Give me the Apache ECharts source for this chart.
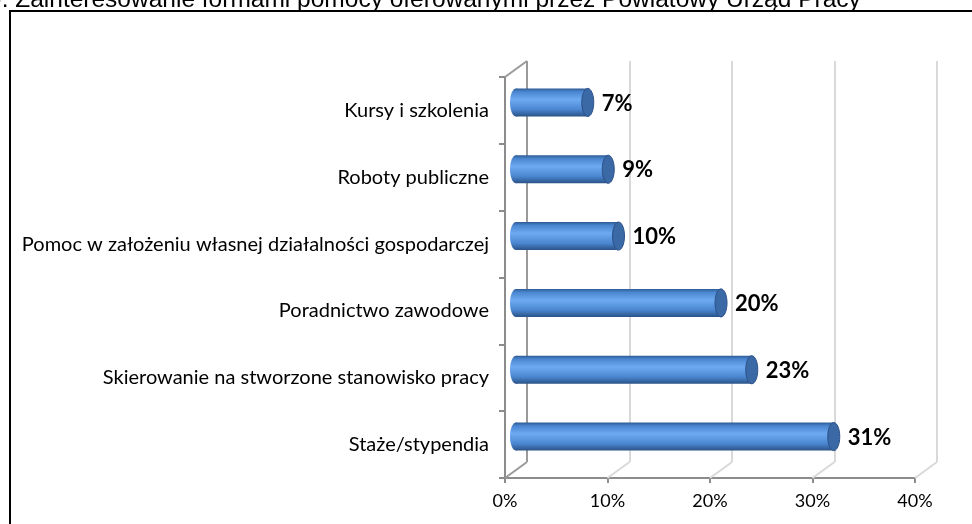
<!DOCTYPE html>
<html>
<head>
<meta charset="utf-8">
<script src="https://cdn.jsdelivr.net/npm/echarts@6/dist/echarts.min.js"></script>
<style>
  html, body { margin: 0; padding: 0; background: #fff; }
  #chart { width: 972px; height: 524px; }
</style>
</head>
<body>
<div id="chart"></div>
<script>
// categories top -> bottom
const categories = [
  'Kursy i szkolenia',
  'Roboty publiczne',
  'Pomoc w założeniu własnej działalności gospodarczej',
  'Poradnictwo zawodowe',
  'Skierowanie na stworzone stanowisko pracy',
  'Staże/stypendia'
]
const values = [7, 9, 10, 20, 23, 31]
const xTicks = [0, 10, 20, 30, 40]
const titleText = '9. Zainteresowanie formami pomocy oferowanymi przez Powiatowy Urząd Pracy'

// 3D depth offset of the back wall
const DX = 22
const DY = -16

const chart = echarts.init(document.getElementById('chart'))

const barFill = new echarts.graphic.LinearGradient(0, 0, 0, 1, [
  { offset: 0, color: '#2d5a94' },
  { offset: 0.12, color: '#4a86cf' },
  { offset: 0.4, color: '#6eaaf2' },
  { offset: 0.75, color: '#4b87d0' },
  { offset: 1, color: '#2a5287' }
])

function renderBar(params, api) {
  const idx = api.value(1)
  const v = api.value(0)
  const start = api.coord([0, idx])
  const end = api.coord([v, idx])
  const h = api.size([0, 1])[1] * 0.42
  const rx = 6
  return {
    type: 'group',
    children: [
      {
        type: 'ellipse',
        shape: { cx: start[0], cy: start[1], rx: rx, ry: h / 2 },
        style: { fill: barFill }
      },
      {
        type: 'rect',
        shape: { x: start[0], y: start[1] - h / 2, width: end[0] - start[0], height: h },
        style: { fill: barFill }
      },
      {
        type: 'ellipse',
        shape: { cx: end[0], cy: end[1], rx: rx, ry: h / 2 },
        style: { fill: '#3a69a6', stroke: '#2b5088', lineWidth: 1 }
      },
      {
        type: 'text',
        style: {
          x: end[0] + rx + 8,
          y: end[1] + 1,
          text: v + '%',
          fill: '#000',
          font: 'bold 22px Lato, "Open Sans", sans-serif',
          verticalAlign: 'middle',
          align: 'left'
        }
      }
    ]
  }
}

function renderFloor(params, api) {
  const v = api.value(0)
  const cs = params.coordSys
  const x = api.coord([v, 0])[0]
  const y = cs.y + cs.height
  const children = [
    {
      type: 'line',
      shape: { x1: x, y1: y, x2: x + DX, y2: y + DY },
      style: { stroke: v === 0 ? '#9a9a9a' : '#d9d9d9', lineWidth: 2 }
    }
  ]
  if (v === 0) {
    // top edge of the side wall
    children.push({
      type: 'line',
      shape: { x1: x, y1: cs.y, x2: x + DX, y2: cs.y + DY },
      style: { stroke: '#9a9a9a', lineWidth: 2 }
    })
  }
  return { type: 'group', children: children }
}

chart.setOption({
  backgroundColor: '#ffffff',
  animation: false,
  title: {
    text: titleText,
    left: -12,
    top: -14,
    padding: 0,
    textStyle: {
      fontFamily: '"Liberation Sans", Arial, sans-serif',
      fontWeight: 'normal',
      fontSize: 24.5,
      lineHeight: 28,
      color: '#000'
    }
  },
  graphic: [
    {
      type: 'rect',
      shape: { x: 10, y: 11, width: 1000, height: 560 },
      style: { fill: 'none', stroke: '#000', lineWidth: 2 },
      silent: true
    }
  ],
  grid: [
    { left: 505, top: 77, width: 410, height: 401 },
    { left: 516, top: 69, width: 410, height: 401 },
    { left: 505 + DX, top: 77 + DY, width: 410, height: 401 }
  ],
  xAxis: [
    {
      gridIndex: 0,
      type: 'value',
      min: 0,
      max: 40,
      interval: 10,
      axisLine: { show: true, lineStyle: { color: '#8c8c8c', width: 2 } },
      axisTick: { show: true, length: 5, lineStyle: { color: '#8c8c8c', width: 2 } },
      axisLabel: {
        formatter: '{value}%',
        margin: 14,
        fontSize: 18,
        fontFamily: 'Lato, "Open Sans", sans-serif',
        color: '#000'
      },
      splitLine: { show: false }
    },
    {
      gridIndex: 1,
      type: 'value',
      min: 0,
      max: 40,
      interval: 10,
      show: false
    },
    {
      gridIndex: 2,
      type: 'value',
      min: 0,
      max: 40,
      interval: 10,
      axisLine: { show: false },
      axisTick: { show: false },
      axisLabel: { show: false },
      splitLine: {
        show: true,
        lineStyle: { color: ['#9a9a9a', '#d9d9d9', '#d9d9d9', '#d9d9d9', '#d9d9d9'], width: 2 }
      }
    }
  ],
  yAxis: [
    {
      gridIndex: 0,
      type: 'category',
      inverse: true,
      data: categories,
      axisLine: { show: true, lineStyle: { color: '#8c8c8c', width: 2 } },
      axisTick: { show: true, length: 6, lineStyle: { color: '#8c8c8c', width: 2 } },
      axisLabel: {
        margin: 16,
        fontSize: 20,
        fontFamily: 'Lato, "Open Sans", sans-serif',
        color: '#000'
      },
      splitLine: { show: false }
    },
    {
      gridIndex: 1,
      type: 'category',
      inverse: true,
      data: categories,
      show: false
    },
    {
      gridIndex: 2,
      type: 'category',
      inverse: true,
      data: categories,
      show: false
    }
  ],
  series: [
    {
      type: 'custom',
      name: 'floor',
      xAxisIndex: 0,
      yAxisIndex: 0,
      silent: true,
      z: 1,
      data: xTicks.map((t) => [t]),
      encode: { x: 0 },
      renderItem: renderFloor
    },
    {
      type: 'custom',
      name: 'Zainteresowanie',
      xAxisIndex: 1,
      yAxisIndex: 1,
      z: 5,
      data: values.map((v, i) => [v, i]),
      encode: { x: 0, y: 1 },
      renderItem: renderBar
    }
  ]
})
</script>
</body>
</html>
